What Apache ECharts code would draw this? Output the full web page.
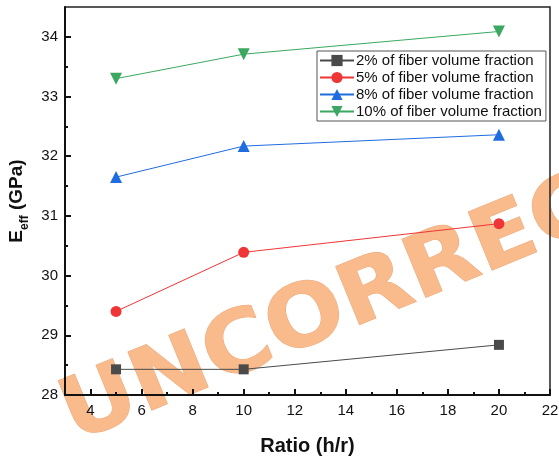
<!DOCTYPE html>
<html lang="en">

<head>
    <meta charset="UTF-8">
    <title>Eeff vs ratio</title>
    <script src="https://cdn.jsdelivr.net/npm/echarts@6/dist/echarts.min.js"></script>
</head>

<body style="margin:0">
    <div id="chart" style="width: 559px; height: 457px;"></div>
    <script>
        // data
        const ratios = [5, 10, 20];
        const names = [
            '2% of fiber volume fraction',
            '5% of fiber volume fraction',
            '8% of fiber volume fraction',
            '10% of fiber volume fraction'
        ];
        const vf2 = [28.43, 28.43, 28.84];
        const vf5 = [29.40, 30.39, 30.87];
        const vf8 = [31.65, 32.17, 32.36];
        const vf10 = [33.30, 33.71, 34.09];
        const xMajor = [4, 6, 8, 10, 12, 14, 16, 18, 20, 22];
        const xMinor = [5, 7, 9, 11, 13, 15, 17, 19, 21];
        const yMajor = [28, 29, 30, 31, 32, 33, 34];
        const yMinor = [28.5, 29.5, 30.5, 31.5, 32.5, 33.5];

        const chart = echarts.init(document.getElementById('chart'));
        const font = 'Liberation Sans';

        function pts(vals) {
            return ratios.map((r, i) => [r, vals[i]]);
        }

        function line(name, vals, color, symbol, size, rotate) {
            return {
                name: name,
                type: 'line',
                data: pts(vals),
                symbol: symbol,
                symbolSize: size,
                symbolRotate: rotate || 0,
                lineStyle: { color: color, width: 1 },
                itemStyle: { color: color },
                z: 5
            };
        }

        chart.setOption({
            animation: false,
            textStyle: { fontFamily: font },
            grid: {
                left: 65, right: 9, top: 7, bottom: 62,
                outerBoundsMode: 'none',
                show: true, borderColor: '#222', borderWidth: 1.5
            },
            // proof watermark behind the plot
            graphic: [{
                type: 'text',
                x: 82, y: 461,
                rotation: 0.39,
                scaleX: 1.08,
                z: -10,
                silent: true,
                style: {
                    text: 'UNCORRECTED',
                    font: 'bold 86px "DejaVu Sans"',
                    fill: '#f9bb8c',
                    stroke: '#eca778',
                    lineWidth: 1,
                    textAlign: 'left',
                    textVerticalAlign: 'bottom'
                }
            }],
            legend: {
                orient: 'vertical',
                left: 317, top: 51,
                itemWidth: 34, itemHeight: 14, itemGap: 2,
                padding: [2, 4, 2, 2],
                borderColor: '#555', borderWidth: 1,
                textStyle: { fontFamily: font, fontSize: 15, lineHeight: 14, color: '#111', padding: [0, 0, 0, -3] },
                data: names
            },
            xAxis: [{
                type: 'value', min: 3, max: 22,
                name: 'Ratio (h/r)', nameLocation: 'middle', nameGap: 41,
                nameTextStyle: { fontFamily: font, fontSize: 20, fontWeight: 'bold', color: '#111' },
                axisLine: { lineStyle: { color: '#111', width: 2 } },
                axisTick: { inside: true, length: 6, lineStyle: { color: '#111', width: 2 }, customValues: xMajor },
                axisLabel: { customValues: xMajor, fontSize: 15, color: '#111', margin: 8 },
                splitLine: { show: false }
            }, {
                type: 'value', min: 3, max: 22, position: 'bottom',
                axisLine: { show: false },
                axisTick: { inside: true, length: 3, lineStyle: { color: '#111', width: 2 }, customValues: xMinor },
                axisLabel: { show: false },
                splitLine: { show: false }
            }],
            yAxis: [{
                type: 'value', min: 28, max: 34.5,
                name: '{e|E}{s|eff}{e| (GPa)}', nameLocation: 'middle', nameGap: 34, nameRotate: 90,
                nameTextStyle: {
                    rich: {
                        e: { fontFamily: font, fontSize: 19, fontWeight: 'bold', color: '#111', verticalAlign: 'bottom' },
                        s: { fontFamily: font, fontSize: 12, fontWeight: 'bold', color: '#111', verticalAlign: 'bottom', padding: [0, 0, -4, 0] }
                    }
                },
                axisLine: { lineStyle: { color: '#111', width: 2 } },
                axisTick: { inside: true, length: 6, lineStyle: { color: '#111', width: 2 }, customValues: yMajor },
                axisLabel: { customValues: yMajor, fontSize: 15, color: '#111', margin: 7 },
                splitLine: { show: false }
            }, {
                type: 'value', min: 28, max: 34.5, position: 'left',
                axisLine: { show: false },
                axisTick: { inside: true, length: 3, lineStyle: { color: '#111', width: 2 }, customValues: yMinor },
                axisLabel: { show: false },
                splitLine: { show: false }
            }],
            series: [
                line(names[0], vf2, '#4a4a4a', 'rect', 10),
                line(names[1], vf5, '#ef3535', 'circle', 11),
                line(names[2], vf8, '#1f6ce0', 'triangle', 12),
                line(names[3], vf10, '#3aa860', 'triangle', 12, 180)
            ]
        });
    </script>
</body>

</html>
